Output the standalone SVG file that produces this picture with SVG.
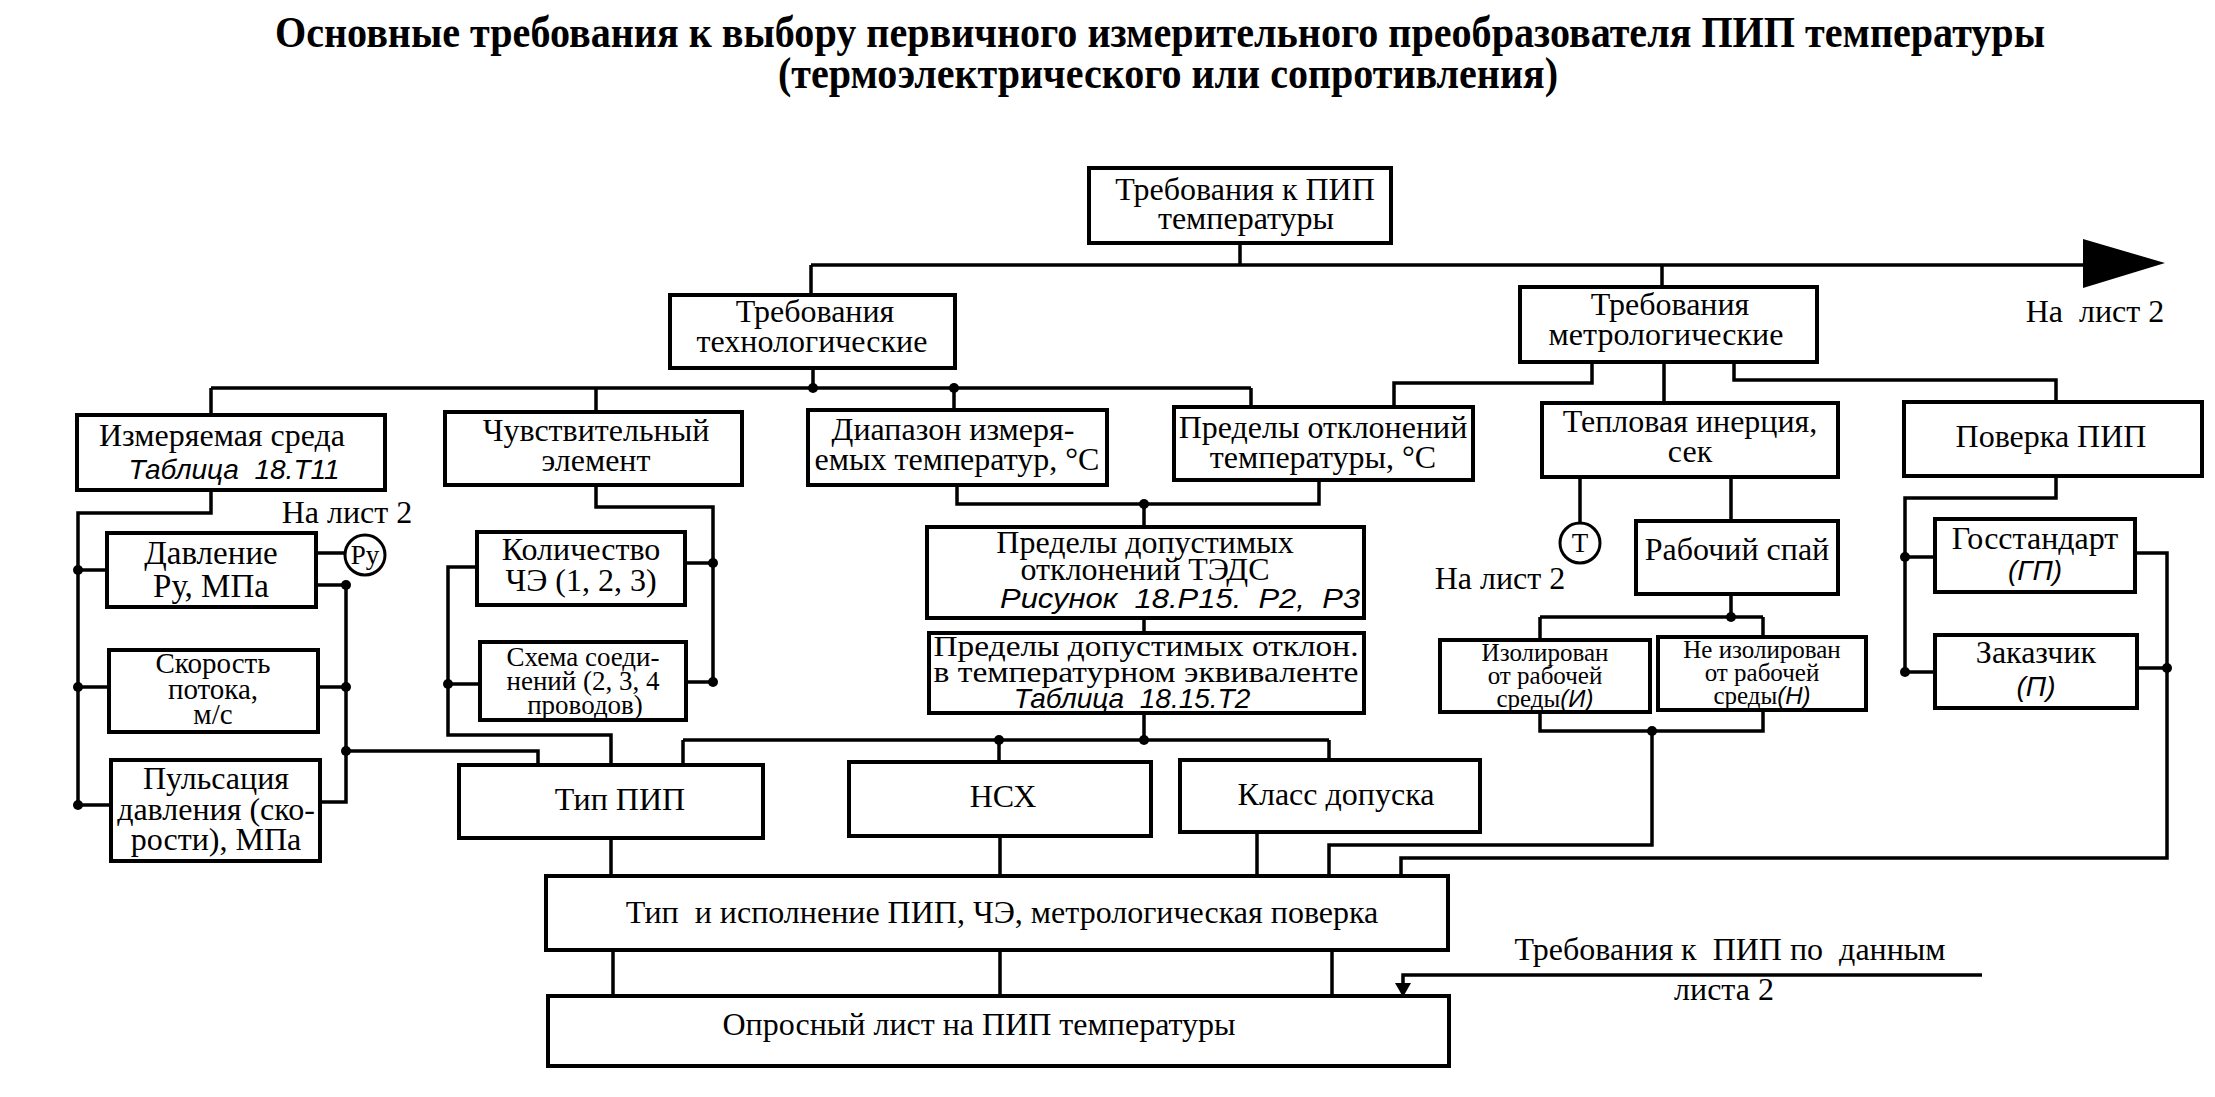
<svg xmlns="http://www.w3.org/2000/svg" width="2215" height="1097" viewBox="0 0 2215 1097">
<style>
.b{fill:#fff;stroke:#000;stroke-width:4}
.c{fill:none;stroke:#000;stroke-width:3.5}
.t{font-family:"Liberation Serif","Times New Roman",serif;font-size:32px;text-anchor:middle;fill:#000}
.s{font-size:29px}
.x{font-size:27px}
.y{font-size:25px}
.i{font-family:"Liberation Sans",Arial,sans-serif;font-style:italic;font-size:28px}
.h{font-family:"Liberation Serif","Times New Roman",serif;font-weight:bold;font-size:44px;text-anchor:middle;fill:#000}
.d{fill:#000}
</style>
<rect width="2215" height="1097" fill="#fff"/>
<g id="title">
<text class="h" x="1160" y="47" textLength="1770" lengthAdjust="spacingAndGlyphs">Основные требования к выбору первичного измерительного преобразователя ПИП температуры</text>
<text class="h" x="1168" y="88" textLength="780" lengthAdjust="spacingAndGlyphs">(термоэлектрического или сопротивления)</text>
</g>
<g id="connectors">
<path class="c" d="M1240 243V265M811 265H2090M811 265V295M1662 265V287"/>
<polygon class="d" points="2083,239 2165,263 2083,288"/>
<path class="c" d="M813 368V388M211 388H1251M211 388V415M596 388V412M954 388V410M1251 388V407"/>
<path class="c" d="M1592 362V383H1394V407M1664 362V403M1734 362V380H2056V402"/>
<path class="c" d="M1580 477V523M1731 477V521M1731 594V617M1540 617H1763M1540 617V640M1763 617V637"/>
<path class="c" d="M1540 712V731H1763V710M1652 731V845H1329V876"/>
<path class="c" d="M2056 476V498H1905V672M1905 557H1935M1905 672H1935M2135 553H2167V858H1401V876M2137 668H2167"/>
<path class="c" d="M211 490V513H78V805M78 570H107M78 687H109M78 805H111M316 553H345M316 585H346V802H320M318 687H346M346 751H538V765"/>
<path class="c" d="M596 485V507H713V682M685 563H713M686 682H713M477 567H448V735H611V765M448 684H480"/>
<path class="c" d="M957 485V504H1319V480M1144 504V527M1144 618V633M1144 713V740M683 740H1329M683 740V765M999 740V762M1329 740V760"/>
<path class="c" d="M611 838V876M1000 836V876M1257 832V876M613 950V996M1000 950V996M1332 950V996"/>
<path class="c" d="M1982 975H1403V985"/>
<polygon class="d" points="1395,983 1411,983 1403,997"/>
<g class="d">
<circle cx="813" cy="388" r="5"/><circle cx="954" cy="388" r="5"/>
<circle cx="1731" cy="617" r="5"/><circle cx="1652" cy="731" r="5"/>
<circle cx="1905" cy="557" r="5"/><circle cx="1905" cy="672" r="5"/><circle cx="2167" cy="668" r="5"/>
<circle cx="78" cy="570" r="5"/><circle cx="78" cy="687" r="5"/><circle cx="78" cy="805" r="5"/>
<circle cx="346" cy="585" r="5"/><circle cx="346" cy="687" r="5"/><circle cx="346" cy="751" r="5"/>
<circle cx="713" cy="563" r="5"/><circle cx="713" cy="682" r="5"/><circle cx="448" cy="684" r="5"/>
<circle cx="1144" cy="504" r="5"/><circle cx="1144" cy="740" r="5"/><circle cx="999" cy="740" r="5"/>
</g>
</g>
<g id="n-top"><rect class="b" x="1089" y="168" width="302" height="75"/>
<text class="t" x="1245" y="200">Требования к ПИП</text><text class="t" x="1246" y="229">температуры</text></g>
<g id="n-tech"><rect class="b" x="670" y="295" width="285" height="73"/>
<text class="t" x="815" y="322">Требования</text><text class="t" x="812" y="352">технологические</text></g>
<g id="n-metro"><rect class="b" x="1520" y="287" width="297" height="75"/>
<text class="t" x="1670" y="315">Требования</text><text class="t" x="1666" y="345">метрологические</text></g>
<g id="n-list2-top"><text class="t" x="2095" y="322" xml:space="preserve">На  лист 2</text></g>
<g id="n-sreda"><rect class="b" x="77" y="415" width="308" height="75"/>
<text class="t" x="222" y="446">Измеряемая среда</text><text class="t i" x="234" y="479" xml:space="preserve">Таблица  18.Т11</text></g>
<g id="n-chuv"><rect class="b" x="445" y="412" width="297" height="73"/>
<text class="t" x="596" y="441">Чувствительный</text><text class="t" x="596" y="471">элемент</text></g>
<g id="n-diap"><rect class="b" x="808" y="410" width="299" height="75"/>
<text class="t" x="953" y="440">Диапазон измеря-</text><text class="t" x="957" y="470">емых температур, °C</text></g>
<g id="n-predotkl"><rect class="b" x="1174" y="407" width="299" height="73"/>
<text class="t" x="1323" y="438">Пределы отклонений</text><text class="t" x="1323" y="468">температуры, °C</text></g>
<g id="n-tepl"><rect class="b" x="1542" y="403" width="296" height="74"/>
<text class="t" x="1690" y="432">Тепловая инерция,</text><text class="t" x="1690" y="462">сек</text></g>
<g id="n-poverka"><rect class="b" x="1904" y="402" width="298" height="74"/>
<text class="t" x="2051" y="447">Поверка ПИП</text></g>
<g id="n-list2-ru"><text class="t" x="347" y="523">На лист 2</text>
<circle cx="365" cy="555" r="20" fill="#fff" stroke="#000" stroke-width="3"/><text class="t x" x="365" y="564">Ру</text></g>
<g id="n-davl"><rect class="b" x="107" y="533" width="209" height="74"/>
<text class="t" x="211" y="564" style="font-size:33px">Давление</text><text class="t" x="211" y="597" style="font-size:33px">Ру, МПа</text></g>
<g id="n-skor"><rect class="b" x="109" y="650" width="209" height="82"/>
<text class="t s" x="213" y="673">Скорость</text><text class="t s" x="213" y="699">потока,</text><text class="t s" x="213" y="724">м/с</text></g>
<g id="n-puls"><rect class="b" x="111" y="760" width="209" height="101"/>
<text class="t" x="216" y="789">Пульсация</text><text class="t" x="216" y="820">давления (ско-</text><text class="t" x="216" y="850">рости), МПа</text></g>
<g id="n-kol"><rect class="b" x="477" y="532" width="208" height="73"/>
<text class="t" x="581" y="560">Количество</text><text class="t" x="581" y="591">ЧЭ (1, 2, 3)</text></g>
<g id="n-shema"><rect class="b" x="480" y="642" width="206" height="78"/>
<text class="t x" x="583" y="666">Схема соеди-</text><text class="t x" x="583" y="690">нений (2, 3, 4</text><text class="t x" x="585" y="714">проводов)</text></g>
<g id="n-teds"><rect class="b" x="927" y="527" width="437" height="91"/>
<text class="t" x="1145" y="553">Пределы допустимых</text><text class="t" x="1145" y="580">отклонений ТЭДС</text><text class="t i" x="1180" y="608" xml:space="preserve" textLength="360" lengthAdjust="spacingAndGlyphs">Рисунок  18.Р15.  Р2,  Р3</text></g>
<g id="n-ekv"><rect class="b" x="929" y="633" width="435" height="80"/>
<text class="t s" x="1146" y="656" textLength="425" lengthAdjust="spacingAndGlyphs">Пределы допустимых отклон.</text><text class="t s" x="1146" y="682" textLength="425" lengthAdjust="spacingAndGlyphs">в температурном эквиваленте</text><text class="t i" x="1132" y="708" xml:space="preserve">Таблица  18.15.Т2</text></g>
<g id="n-list2-t"><circle cx="1580" cy="543" r="20" fill="#fff" stroke="#000" stroke-width="3"/><text class="t x" x="1580" y="552">Т</text>
<text class="t" x="1500" y="589">На лист 2</text></g>
<g id="n-spai"><rect class="b" x="1636" y="521" width="202" height="73"/>
<text class="t" x="1737" y="560">Рабочий спай</text></g>
<g id="n-izol"><rect class="b" x="1440" y="640" width="210" height="72"/>
<text class="t y" x="1545" y="661">Изолирован</text><text class="t y" x="1545" y="684">от рабочей</text><text class="t y" x="1545" y="707">среды<tspan class="i" style="font-size:24px">(И)</tspan></text></g>
<g id="n-neizol"><rect class="b" x="1658" y="637" width="208" height="73"/>
<text class="t y" x="1762" y="658">Не изолирован</text><text class="t y" x="1762" y="681">от рабочей</text><text class="t y" x="1762" y="704">среды<tspan class="i" style="font-size:24px">(Н)</tspan></text></g>
<g id="n-gost"><rect class="b" x="1935" y="519" width="200" height="73"/>
<text class="t" x="2035" y="549">Госстандарт</text><text class="t i" x="2035" y="580">(ГП)</text></g>
<g id="n-zak"><rect class="b" x="1935" y="635" width="202" height="73"/>
<text class="t" x="2036" y="663">Заказчик</text><text class="t i" x="2036" y="696">(П)</text></g>
<g id="n-tip"><rect class="b" x="459" y="765" width="304" height="73"/>
<text class="t" x="620" y="810">Тип ПИП</text></g>
<g id="n-nsh"><rect class="b" x="849" y="762" width="302" height="74"/>
<text class="t" x="1003" y="807">НСХ</text></g>
<g id="n-klass"><rect class="b" x="1180" y="760" width="300" height="72"/>
<text class="t" x="1336" y="805">Класс допуска</text></g>
<g id="n-tipisp"><rect class="b" x="546" y="876" width="902" height="74"/>
<text class="t" x="1002" y="923" xml:space="preserve">Тип  и исполнение ПИП, ЧЭ, метрологическая поверка</text></g>
<g id="n-opros"><rect class="b" x="548" y="996" width="901" height="70"/>
<text class="t" x="979" y="1035">Опросный лист на ПИП температуры</text></g>
<g id="n-list2-in"><text class="t" x="1730" y="960" xml:space="preserve">Требования к  ПИП по  данным</text><text class="t" x="1724" y="1000">листа 2</text></g>
</svg>
